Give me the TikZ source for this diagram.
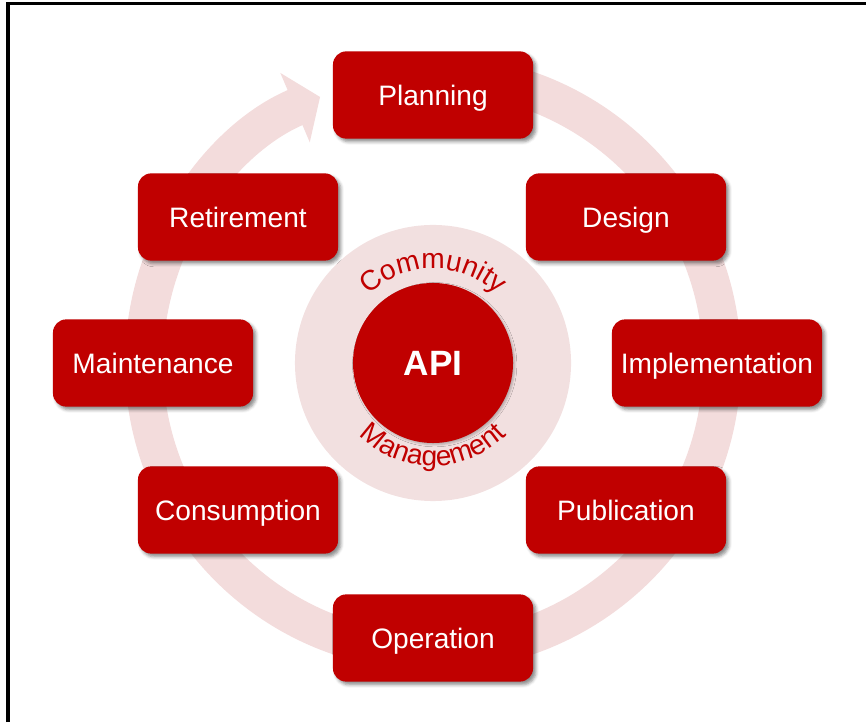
\documentclass[tikz,border=0pt]{standalone}
\usepackage{fontspec}
\setmainfont{Liberation Sans}
\usetikzlibrary{arrows.meta,decorations.text,shadows.blur}

\definecolor{apired}{RGB}{192,0,0}
\definecolor{cyclepink}{RGB}{243,220,220}
\definecolor{halopink}{RGB}{242,224,224}

\tikzset{
    phasebox/.style={fill=apired, text=white, rounded corners=0.33cm,
        minimum width=5cm, minimum height=2.18cm,
        font=\fontsize{20}{23}\selectfont, text height=14.3pt, text depth=0pt,
        blur shadow={shadow xshift=2pt, shadow yshift=-2.2pt,
            shadow blur radius=2.2pt, shadow opacity=45}},
    apicore/.style={circle, fill=apired, text=white, minimum size=4cm,
        font=\fontsize{25}{28}\bfseries,
        blur shadow={shadow xshift=1.2pt, shadow yshift=-1.2pt,
            shadow blur radius=1.5pt, shadow opacity=25}},
    halo/.style={circle, fill=halopink, minimum size=6.9cm},
}
\newcommand{\arclabelfont}{\fontsize{20}{22}\selectfont\color{apired}}

\begin{document}
\begin{tikzpicture}[x=0.025cm, y=0.025cm]
        \useasboundingbox (0,0) rectangle (866,722);

        % 边框
        \draw[line width=0.075cm] (8,0) -- (8,718) -- (866,718);

        % 循环箭头
        \draw[cyclepink, line width=0.95cm, -{Triangle[length=0.68cm, width=1.85cm]}]
            (433,359) ++(80:289) arc[start angle=80, end angle=-247, radius=289];

        % 中心的圆
        \node[halo] (community) at (433,359) {};
        \node[apicore] (api) at (433,359) {API};

        % 沿圆弧的文字
        \path[shift={(api.center)}, decorate, decoration={text along path,
            text align=center, text={|\arclabelfont|Community}}]
            (140:94) arc[start angle=140, end angle=40, radius=94];
        \path[shift={(api.center)}, decorate, decoration={text along path,
            text align=center, text={|\arclabelfont|Management}}]
            (218:103) arc[start angle=218, end angle=322, radius=103];

        % 八个阶段
        \node[phasebox] (planning) at (433,627) {Planning};
        \node[phasebox] (design) at (626,505) {Design};
        \node[phasebox, minimum width=5.25cm] (implementation) at (717,359) {Implementation};
        \node[phasebox] (publication) at (626,212) {Publication};
        \node[phasebox] (operation) at (433,84) {Operation};
        \node[phasebox] (consumption) at (238,212) {Consumption};
        \node[phasebox] (maintenance) at (153,359) {Maintenance};
        \node[phasebox] (retirement) at (238,505) {Retirement};

    \end{tikzpicture}
\end{document}
